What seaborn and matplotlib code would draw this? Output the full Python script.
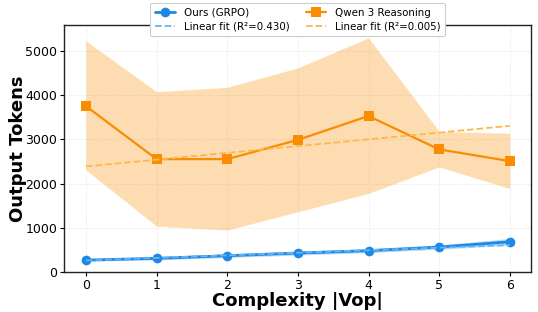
import numpy as np
import pandas as pd
import matplotlib
matplotlib.use("Agg")
import matplotlib.pyplot as plt
import seaborn as sns

complexity = [0, 1, 2, 3, 4, 5, 6]
ours_mean = [271, 310, 370, 430, 483, 565, 685]
ours_lo = [245, 275, 330, 385, 440, 515, 610]
ours_hi = [295, 345, 410, 475, 530, 615, 760]
qwen_mean = [3755, 2555, 2555, 2990, 3530, 2775, 2510]
qwen_lo = [2310, 1040, 950, 1365, 1780, 2380, 1890]
qwen_hi = [5230, 4080, 4180, 4620, 5300, 3180, 3140]
ours_fit = [262, 58]     # intercept, slope
qwen_fit = [2390, 153]
ours_r2 = 0.430
qwen_r2 = 0.005

sns.set_theme(style="whitegrid")
plt.rcParams['font.family'] = ['DejaVu Sans']
plt.rcParams['text.color'] = 'black'
plt.rcParams['axes.labelcolor'] = 'black'
plt.rcParams['xtick.color'] = 'black'
plt.rcParams['ytick.color'] = 'black'

blue = "#1E88E5"
orange = "#FB8C00"

df = pd.DataFrame({"x": complexity * 2,
                   "y": ours_mean + qwen_mean,
                   "model": ["Ours (GRPO)"] * 7 + ["Qwen 3 Reasoning"] * 7})

fig, ax = plt.subplots(figsize=(5.38, 3.12), dpi=100)
ax.set_facecolor("white")

ax.fill_between(complexity, qwen_lo, qwen_hi, color=orange, alpha=0.3, lw=0)
ax.fill_between(complexity, ours_lo, ours_hi, color=blue, alpha=0.3, lw=0)

sns.lineplot(data=df[df.model == "Ours (GRPO)"], x="x", y="y", ax=ax, color=blue,
             marker="o", markersize=7, lw=2, markeredgewidth=0, label="Ours (GRPO)")
xs = np.array(complexity)
ax.plot(xs, ours_fit[0] + ours_fit[1] * xs, ls="--", color="#64B5F6", lw=1.3,
        label=f"Linear fit (R²={ours_r2:.3f})")
sns.lineplot(data=df[df.model == "Qwen 3 Reasoning"], x="x", y="y", ax=ax, color=orange,
             marker="s", markersize=7, lw=1.6, markeredgewidth=0, label="Qwen 3 Reasoning")
ax.plot(xs, qwen_fit[0] + qwen_fit[1] * xs, ls="--", color="#FFB74D", lw=1.3,
        label=f"Linear fit (R²={qwen_r2:.3f})")

ax.set_xlim(-0.31, 6.3)
ax.set_ylim(0, 5590)
ax.set_xticks(complexity)
ax.set_yticks([0, 1000, 2000, 3000, 4000, 5000])
ax.tick_params(labelsize=9, length=3, width=0.8, color="black", bottom=True, left=True, pad=2)
ax.grid(True, color="#dddddd", lw=0.6, ls=":")
for s in ax.spines.values():
    s.set_color("#222222")
    s.set_linewidth(1.0)

ax.set_xlabel("Complexity |Vop|", fontsize=13, fontweight="bold", labelpad=0)
ax.set_ylabel("Output Tokens", fontsize=13, fontweight="bold")
ax.yaxis.set_label_coords(-0.08, 0.5)

h, l = ax.get_legend_handles_labels()
leg = ax.legend(h, l, loc="upper center", bbox_to_anchor=(0.5, 1.11), ncol=2,
                fontsize=7.4, frameon=True, framealpha=1, edgecolor="#cccccc",
                handlelength=2.0, handletextpad=0.8, columnspacing=1.6,
                borderpad=0.45, labelspacing=0.4)
leg.get_frame().set_linewidth(0.8)

fig.subplots_adjust(left=0.119, right=0.987, top=0.92, bottom=0.128)
fig.savefig("out.png", dpi=100)
